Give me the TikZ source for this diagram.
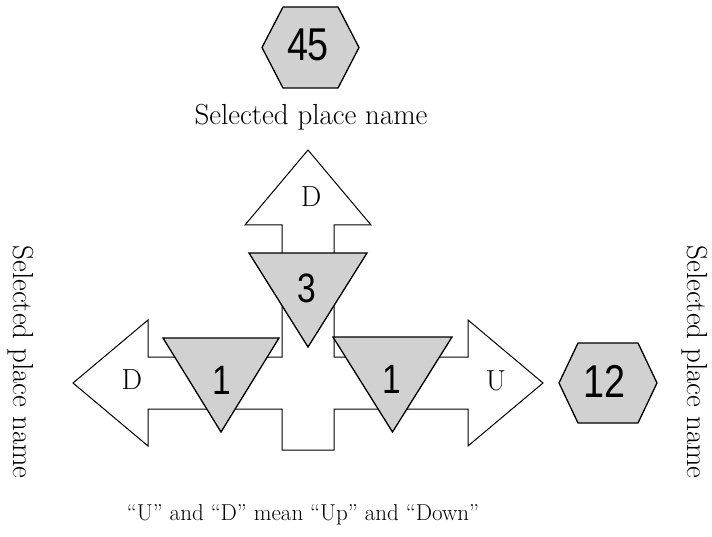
\documentclass[tikz,border=0pt]{standalone}
\usepackage{fontspec}
\newfontfamily\digitfont[FakeStretch=0.82]{Liberation Sans}
\usetikzlibrary{positioning}

\begin{document}
\begin{tikzpicture}[
  x=1pt, y=-1pt,
  font=\fontsize{29}{34}\selectfont,
  outline/.style={draw=black, line width=1pt, fill=white},
  tile/.style={draw=black, line width=1.3pt, fill=black!18},
  num/.style={font=\digitfont\fontsize{46}{50}\selectfont, inner sep=0pt},
  small num/.style={num, font=\digitfont\fontsize{41}{45}\selectfont},
  letter/.style={inner sep=0pt},
  tag/.style={inner sep=0pt, anchor=base}
]
\useasboundingbox (0,0) rectangle (712,537);

% top place
\draw[tile] (262,47.5) -- (283,7) -- (338,7) -- (359,47.5) -- (338,88) -- (283,88) -- cycle;
\node[num] (n45) at (308,45) {45};
\node[tag] (top) at (311,125) {Selected place name};

% cross of arrows
\draw[outline] (308,150) -- (371,225) -- (334,225) -- (334,357) -- (468,357)
  -- (468,320) -- (543,383) -- (468,446) -- (468,409) -- (334,409)
  -- (334,450) -- (282,450) -- (282,409) -- (148,409) -- (148,446)
  -- (73,383) -- (148,320) -- (148,357) -- (282,357) -- (282,225)
  -- (245,225) -- cycle;
\node[letter] (dup) at (311,197) {D};
\node[letter] (dleft) at (132,380) {D};
\node[letter] (uright) at (496,381) {U};

% counters
\draw[tile] (249,253) -- (367,253) -- (308,347) -- cycle;
\node[small num] (n3) at (307,288) {3};
\draw[tile] (163,338) -- (279,338) -- (221,432) -- cycle;
\node[small num] (n1l) at (222,380) {1};
\draw[tile] (333,337) -- (452,337) -- (392.5,432) -- cycle;
\node[small num] (n1r) at (392,379) {1};

% right place
\draw[tile] (559,383) -- (578,343) -- (638,343) -- (657,383) -- (638,423) -- (578,423) -- cycle;
\node[num] (n12) at (604,381) {12};

% side labels
\node[tag, rotate=-90] (left) at (13,362) {Selected place name};
\node[tag, rotate=-90] (right) at (687,362) {Selected place name};

% note
\node[tag, font=\fontsize{23}{27}\selectfont] (note) at (303,520)
  {``U'' and ``D'' mean ``Up'' and ``Down''};
\end{tikzpicture}
\end{document}
